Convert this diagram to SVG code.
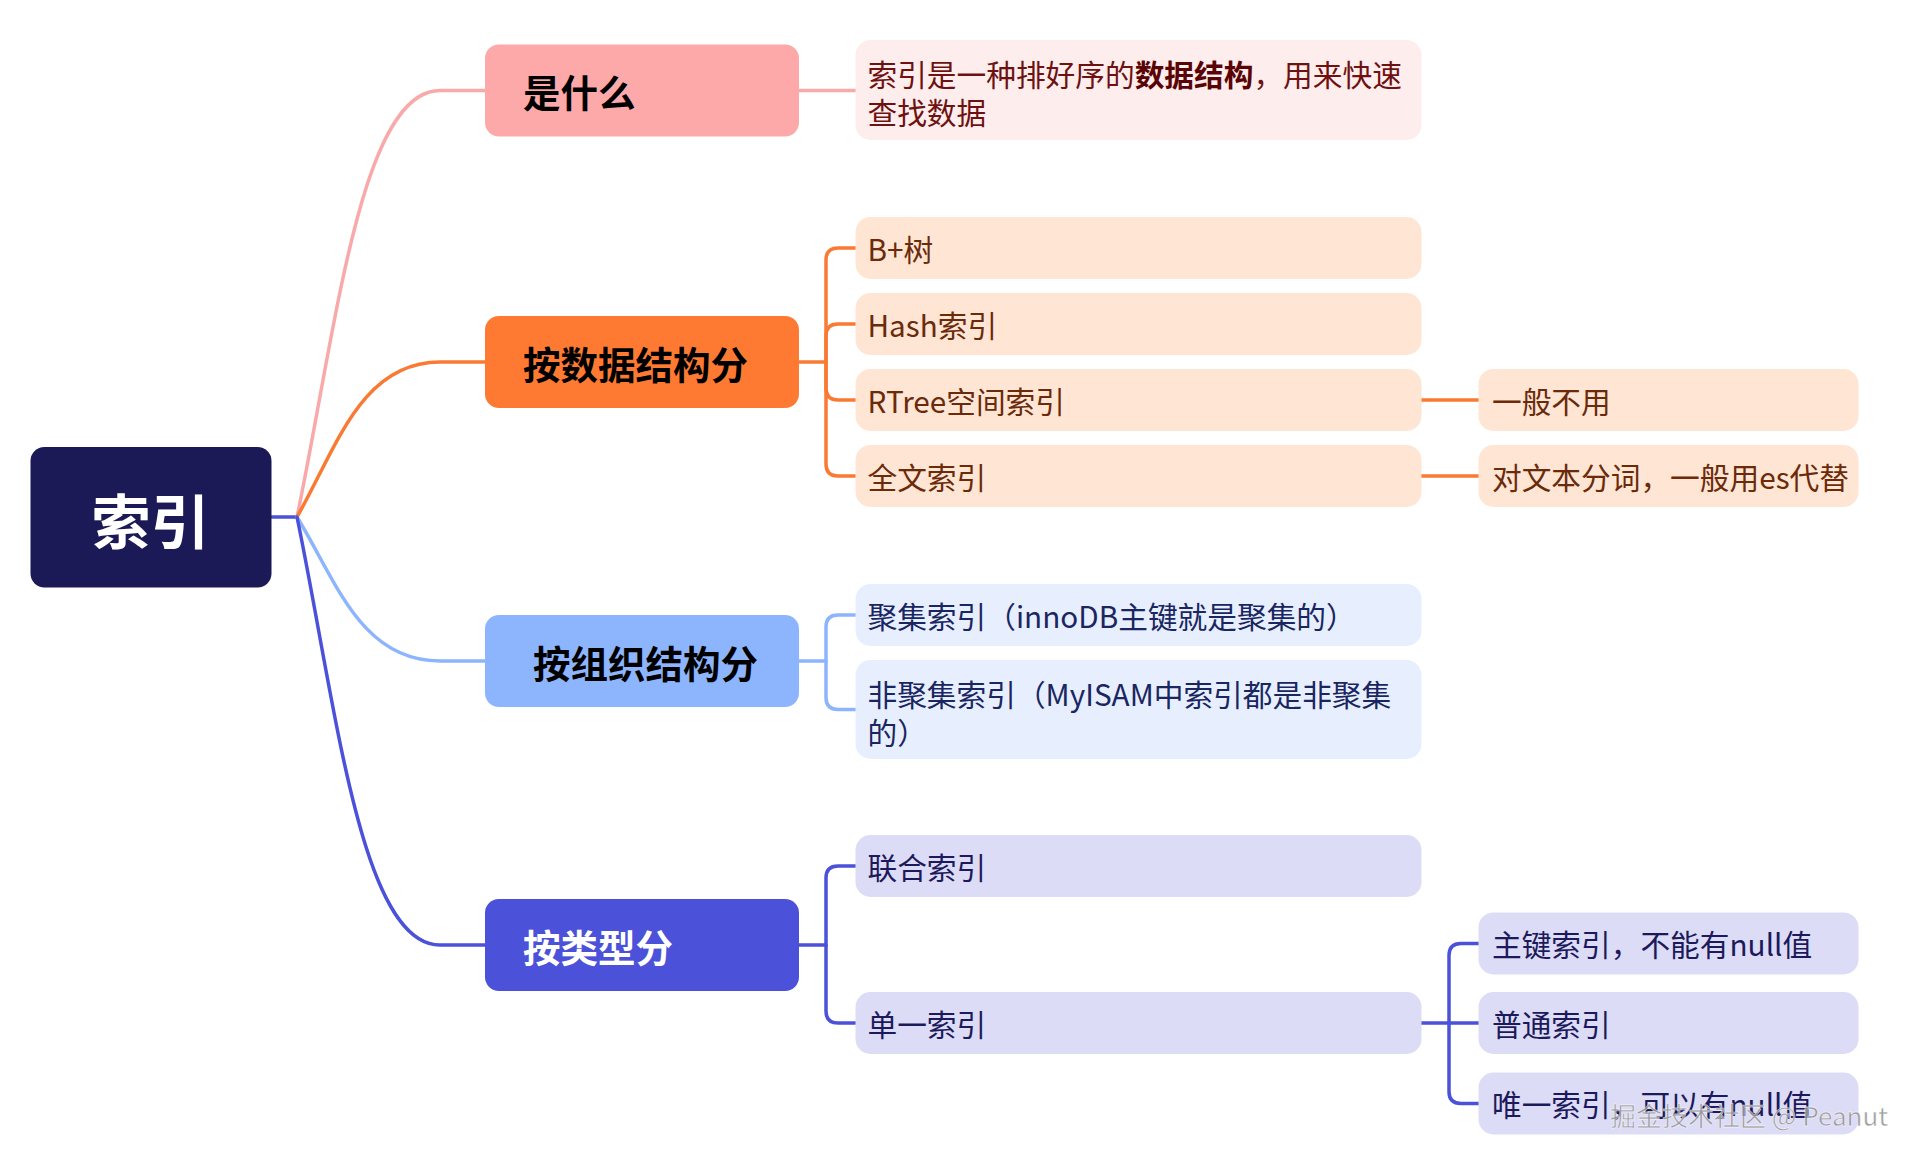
<svg xmlns="http://www.w3.org/2000/svg" width="1916" height="1160" viewBox="0 0 1916 1160">
<style>
text{font-family:"Noto Sans CJK SC","Noto Sans",sans-serif;dominant-baseline:central}
.c{fill:none;stroke-width:3.5;stroke-linecap:round}
.pk{stroke:#f9a9a9}.or{stroke:#f97b33}.bl{stroke:#8db5fd}.in{stroke:#4b51d9}
.l1{font-size:37.5px;font-weight:700}
.l2{font-size:29.7px}
.n2pk{fill:#feeded}.n2or{fill:#fee5d4}.n2bl{fill:#e7efff}.n2in{fill:#dddcf7}
.tpk{fill:#6e1111}.tor{fill:#6b2a0a}.tbl{fill:#1a2660}.tin{fill:#1c1a5a}
</style>
<rect width="1916" height="1160" fill="#ffffff"/>
<g id="connectors">
<path class="c in" d="M271.5,517 H297"/>
<path class="c pk" d="M297,517 C336,329.3 360.5,90.5 440,90.5 H485"/>
<path class="c or" d="M297,517 C336,448.8 360.5,362 440,362 H485"/>
<path class="c bl" d="M297,517 C336,580.4 360.5,661 440,661 H485"/>
<path class="c in" d="M297,517 C336,705.3 360.5,945 440,945 H485"/>
<path class="c pk" d="M799,90.5 H855.5"/>
<path class="c or" d="M799,362 H826 V260 Q826,248 838,248 H855.5"/>
<path class="c or" d="M826,362 V336 Q826,324 838,324 H855.5"/>
<path class="c or" d="M826,362 V388 Q826,400 838,400 H855.5"/>
<path class="c or" d="M826,362 V464 Q826,476 838,476 H855.5"/>
<path class="c bl" d="M799,661 H826 V627 Q826,615 838,615 H855.5"/>
<path class="c bl" d="M826,661 V697.5 Q826,709.5 838,709.5 H855.5"/>
<path class="c in" d="M799,945 H826 V878 Q826,866 838,866 H855.5"/>
<path class="c in" d="M826,945 V1011 Q826,1023 838,1023 H855.5"/>
<path class="c or" d="M1421,400 H1478.5"/>
<path class="c or" d="M1421,476 H1478.5"/>
<path class="c in" d="M1421,1023 H1478.5"/>
<path class="c in" d="M1449,1023 V955.4 Q1449,943.4 1461,943.4 H1478.5"/>
<path class="c in" d="M1449,1023 V1091.5 Q1449,1103.5 1461,1103.5 H1478.5"/>
</g>
<g id="root"><rect x="30.5" y="447" width="241" height="140.5" rx="14" fill="#1b1a57"/><text x="150.5" y="518" font-size="59" font-weight="700" fill="#ffffff" text-anchor="middle">索引</text></g>
<g id="n-what"><rect x="485" y="44.5" width="314" height="92" rx="14" fill="#fea9a9"/><text class="l1" x="523" y="90.5" fill="#000">是什么</text></g>
<g id="n-ds"><rect x="485" y="316" width="314" height="92" rx="14" fill="#fe7a32"/><text class="l1" x="523" y="362" fill="#000">按数据结构分</text></g>
<g id="n-org"><rect x="485" y="615" width="314" height="92" rx="14" fill="#8db5fd"/><text class="l1" x="533" y="661" fill="#000">按组织结构分</text></g>
<g id="n-type"><rect x="485" y="899" width="314" height="92" rx="14" fill="#4b51d9"/><text class="l1" x="523" y="945" fill="#fff">按类型分</text></g>
<g id="n-def"><rect class="n2pk" x="855.5" y="40" width="566" height="100" rx="15"/><text class="l2 tpk" x="867.5" y="73">索引是一种排好序的<tspan font-weight="700" fill="#5a0505">数据结构</tspan>，用来快速</text><text class="l2 tpk" x="867.5" y="111">查找数据</text></g>
<g id="n-bplus"><rect class="n2or" x="855.5" y="217" width="566" height="62" rx="15"/><text class="l2 tor" x="867.5" y="248">B+树</text></g>
<g id="n-hash"><rect class="n2or" x="855.5" y="293" width="566" height="62" rx="15"/><text class="l2 tor" x="867.5" y="324">Hash索引</text></g>
<g id="n-rtree"><rect class="n2or" x="855.5" y="369" width="566" height="62" rx="15"/><text class="l2 tor" x="867.5" y="400">RTree空间索引</text></g>
<g id="n-full"><rect class="n2or" x="855.5" y="445" width="566" height="62" rx="15"/><text class="l2 tor" x="867.5" y="476">全文索引</text></g>
<g id="n-rtree-note"><rect class="n2or" x="1478.5" y="369" width="380" height="62" rx="15"/><text class="l2 tor" x="1492" y="400">一般不用</text></g>
<g id="n-full-note"><rect class="n2or" x="1478.5" y="445" width="380" height="62" rx="15"/><text class="l2 tor" x="1492" y="476">对文本分词，一般用es代替</text></g>
<g id="n-cluster"><rect class="n2bl" x="855.5" y="584" width="566" height="62" rx="15"/><text class="l2 tbl" x="867.5" y="615">聚集索引（innoDB主键就是聚集的）</text></g>
<g id="n-noncluster"><rect class="n2bl" x="855.5" y="660" width="566" height="99" rx="15"/><text class="l2 tbl" x="867.5" y="693">非聚集索引（MyISAM中索引都是非聚集</text><text class="l2 tbl" x="867.5" y="731">的）</text></g>
<g id="n-composite"><rect class="n2in" x="855.5" y="835" width="566" height="62" rx="15"/><text class="l2 tin" x="867.5" y="866">联合索引</text></g>
<g id="n-single"><rect class="n2in" x="855.5" y="992" width="566" height="62" rx="15"/><text class="l2 tin" x="867.5" y="1023">单一索引</text></g>
<g id="n-primary"><rect class="n2in" x="1478.5" y="912.4" width="380" height="62" rx="15"/><text class="l2 tin" x="1492" y="943.4">主键索引，不能有null值</text></g>
<g id="n-normal"><rect class="n2in" x="1478.5" y="992" width="380" height="62" rx="15"/><text class="l2 tin" x="1492" y="1023">普通索引</text></g>
<g id="n-unique"><rect class="n2in" x="1478.5" y="1072.5" width="380" height="62" rx="15"/><text class="l2 tin" x="1492" y="1103.5">唯一索引，可以有null值</text></g>
<text x="1888" y="1114" font-size="26" fill="#8a8a8a" fill-opacity="0.85" stroke="#ffffff" stroke-width="0.8" stroke-opacity="0.6" text-anchor="end">掘金技术社区 @ Peanut</text>
</svg>
